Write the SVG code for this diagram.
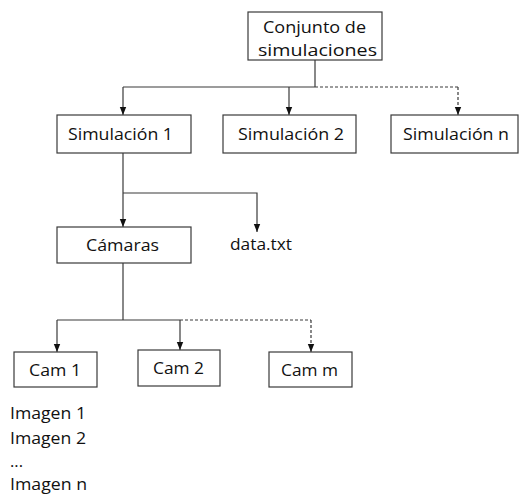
<svg xmlns="http://www.w3.org/2000/svg" width="519" height="495" viewBox="0 0 519 495">
<style>
.box{fill:#fff;stroke:#3a3a3a;stroke-width:1.2}
.t{font-family:"Open Sans","Liberation Sans",sans-serif;font-size:16px;fill:#111}
.c{fill:none;stroke:#3a3a3a;stroke-width:1.2}
.d{stroke-dasharray:3,2}
</style>
<defs>
<marker id="ah" markerWidth="8" markerHeight="8" viewBox="0 0 8 8" refX="8" refY="4" orient="auto" markerUnits="userSpaceOnUse">
<path d="M0,0.8 L8,4 L0,7.2 Z" fill="#111"/>
</marker>
</defs>
<rect width="519" height="495" fill="#fff"/>
<g id="connectors">
<path class="c" d="M315,60 V87 M123,87 H315"/>
<path class="c d" d="M315,87 H458"/>
<path class="c" d="M123,87 V115" marker-end="url(#ah)"/>
<path class="c" d="M289,87 V115" marker-end="url(#ah)"/>
<path class="c d" d="M458,87 V115" marker-end="url(#ah)"/>
<path class="c" d="M123,153 V227" marker-end="url(#ah)"/>
<path class="c" d="M123,193 H257 V232" marker-end="url(#ah)"/>
<path class="c" d="M123,263 V320 M57,320 H180"/>
<path class="c d" d="M180,320 H311"/>
<path class="c" d="M57,320 V352" marker-end="url(#ah)"/>
<path class="c" d="M180,320 V350" marker-end="url(#ah)"/>
<path class="c d" d="M311,320 V352" marker-end="url(#ah)"/>
</g>
<g id="conjunto">
<rect class="box" x="248" y="12" width="134" height="48"/>
<text class="t" x="263" y="33" textLength="103" lengthAdjust="spacingAndGlyphs">Conjunto de</text>
<text class="t" x="258" y="56" textLength="119" lengthAdjust="spacingAndGlyphs">simulaciones</text>
</g>
<g id="sim1">
<rect class="box" x="57" y="115" width="134" height="38"/>
<text class="t" x="68" y="140" textLength="105" lengthAdjust="spacingAndGlyphs">Simulación 1</text>
</g>
<g id="sim2">
<rect class="box" x="223" y="115" width="133" height="38"/>
<text class="t" x="238" y="140" textLength="106" lengthAdjust="spacingAndGlyphs">Simulación 2</text>
</g>
<g id="simn">
<rect class="box" x="391" y="115" width="127" height="38"/>
<text class="t" x="403" y="140" textLength="106" lengthAdjust="spacingAndGlyphs">Simulación n</text>
</g>
<g id="camaras">
<rect class="box" x="57" y="227" width="134" height="36"/>
<text class="t" x="86" y="251" textLength="73" lengthAdjust="spacingAndGlyphs">Cámaras</text>
</g>
<g id="data">
<text class="t" x="230" y="250" textLength="62" lengthAdjust="spacingAndGlyphs">data.txt</text>
</g>
<g id="cam1">
<rect class="box" x="14" y="352" width="83" height="35"/>
<text class="t" x="29" y="376" textLength="52" lengthAdjust="spacingAndGlyphs">Cam 1</text>
</g>
<g id="cam2">
<rect class="box" x="138" y="350" width="82" height="36"/>
<text class="t" x="153" y="374" textLength="51" lengthAdjust="spacingAndGlyphs">Cam 2</text>
</g>
<g id="camm">
<rect class="box" x="269" y="352" width="83" height="35"/>
<text class="t" x="281" y="376" textLength="57" lengthAdjust="spacingAndGlyphs">Cam m</text>
</g>
<g id="imagenes">
<text class="t" x="10" y="419" textLength="76" lengthAdjust="spacingAndGlyphs">Imagen 1</text>
<text class="t" x="10" y="444" textLength="76" lengthAdjust="spacingAndGlyphs">Imagen 2</text>
<text class="t" x="10" y="467" textLength="13" lengthAdjust="spacingAndGlyphs">...</text>
<text class="t" x="10" y="490" textLength="77" lengthAdjust="spacingAndGlyphs">Imagen n</text>
</g>
</svg>
